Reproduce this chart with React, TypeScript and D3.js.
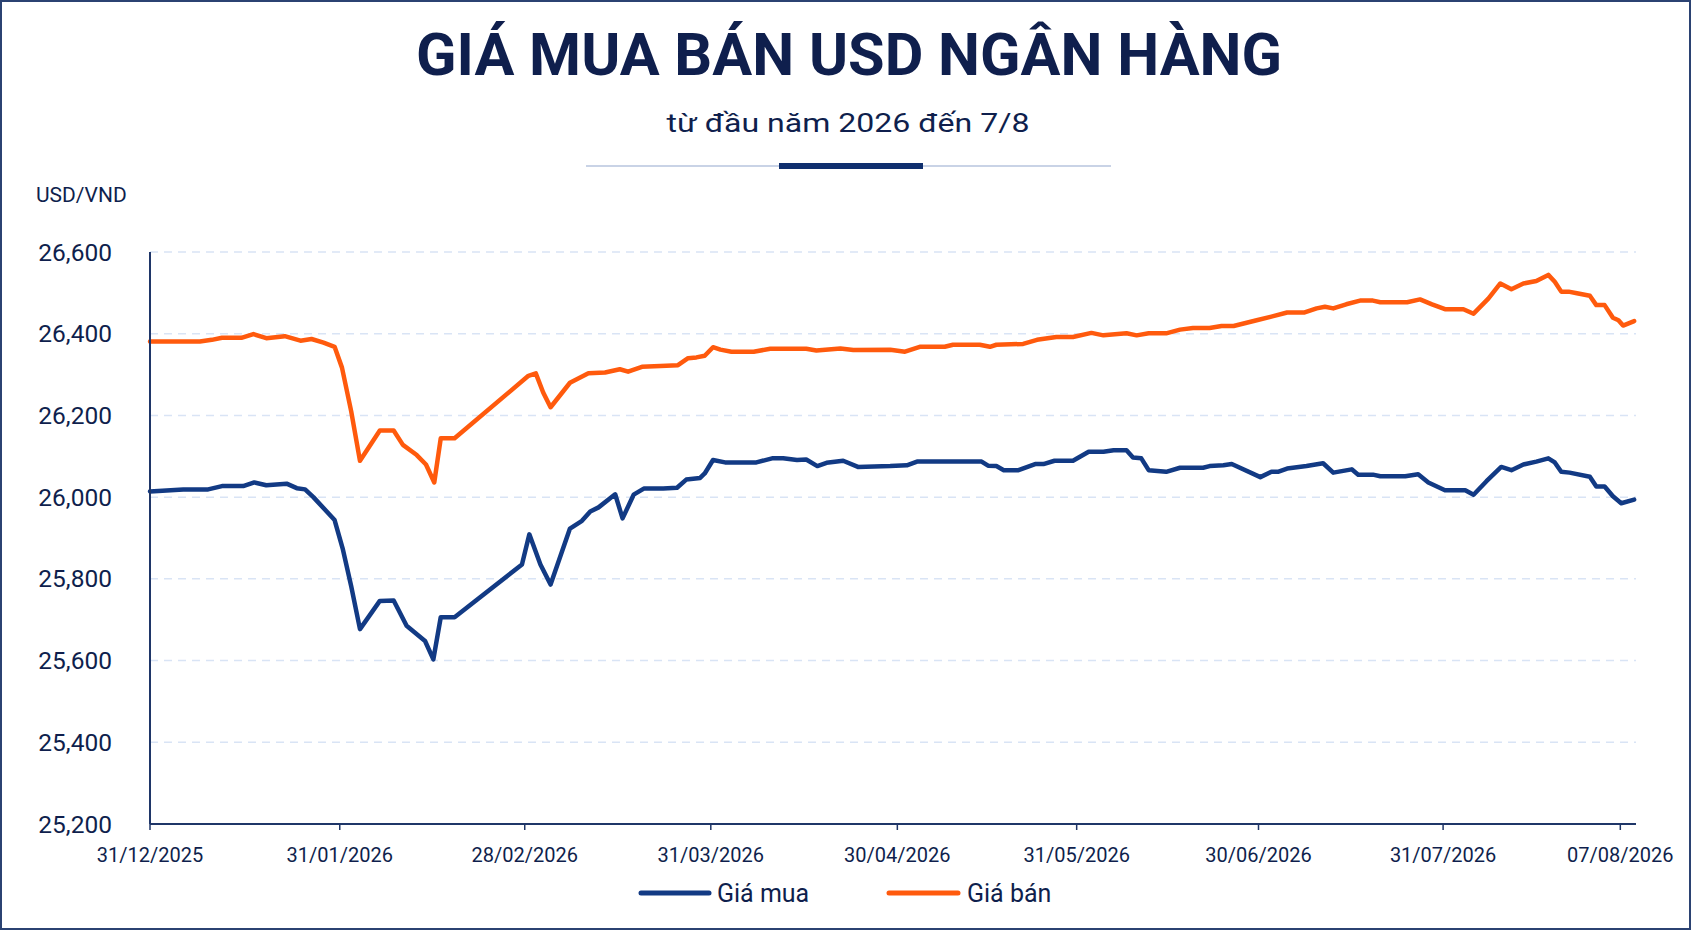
import * as d3 from "d3";

type Pt = [number, number];

// trading-day position on the x axis, price in VND
const yTicks = [25200, 25400, 25600, 25800, 26000, 26200, 26400, 26600];
const tickLabels = [
    "31/12/2025",
    "31/01/2026",
    "28/02/2026",
    "31/03/2026",
    "30/04/2026",
    "31/05/2026",
    "30/06/2026",
    "31/07/2026",
    "07/08/2026",
];
const tickPos = [0, 20.56, 40.6, 60.76, 80.97, 100.4, 120.1, 140.1, 159.3];

const buyPoints: Pt[] = [
    [0, 26014], [3.6, 26019], [6.3, 26019], [7.8, 26027], [10.1, 26027], [11.3, 26036],
    [12.6, 26029], [14.8, 26033], [15.9, 26022], [16.8, 26019], [17.7, 26000], [20.0, 25944],
    [20.9, 25872], [21.8, 25782], [22.75, 25677], [24.9, 25746], [26.4, 25747], [27.8, 25685],
    [29.8, 25648], [30.7, 25603], [31.5, 25706], [33.0, 25706], [40.3, 25835], [41.1, 25909],
    [42.3, 25835], [43.4, 25786], [45.5, 25923], [46.8, 25942], [47.7, 25965], [48.6, 25975],
    [50.4, 26007], [51.2, 25948], [52.4, 26006], [53.5, 26021], [55.6, 26021], [57.1, 26023],
    [58.1, 26043], [59.6, 26047], [60.1, 26058], [61.0, 26091], [62.3, 26085], [65.7, 26085],
    [67.4, 26095], [68.6, 26095], [70.1, 26091], [71.1, 26092], [72.3, 26076], [73.3, 26084],
    [75.1, 26089], [76.7, 26074], [80.2, 26076], [82.0, 26078], [83.1, 26087], [90.1, 26087],
    [90.8, 26077], [91.7, 26076], [92.5, 26066], [94.1, 26066], [95.9, 26081], [96.8, 26081],
    [98.0, 26089], [100.0, 26089], [101.7, 26111], [103.3, 26111], [104.4, 26115], [105.8, 26115],
    [106.5, 26097], [107.4, 26095], [108.2, 26066], [110.1, 26062], [111.6, 26072], [114.1, 26072],
    [114.8, 26076], [116.3, 26078], [117.2, 26081], [120.3, 26049], [121.5, 26062], [122.2, 26062],
    [123.2, 26070], [125.3, 26076], [127.1, 26083], [128.2, 26060], [130.2, 26068], [130.9, 26055],
    [132.5, 26055], [133.3, 26051], [136.0, 26051], [137.4, 26056], [138.5, 26036], [140.3, 26017],
    [142.5, 26017], [143.4, 26006], [144.8, 26039], [146.4, 26074], [147.5, 26066], [148.8, 26080],
    [150.2, 26087], [151.5, 26095], [152.2, 26085], [152.9, 26062], [153.8, 26060], [156.0, 26050],
    [156.7, 26026], [157.6, 26026], [158.5, 26002], [159.4, 25985], [160.8, 25994],
];

const sellPoints: Pt[] = [
    [0, 26381], [5.4, 26381], [6.7, 26385], [7.8, 26390], [9.9, 26390], [11.2, 26399],
    [12.6, 26389], [14.6, 26394], [16.3, 26383], [17.5, 26387], [18.8, 26378], [20.0, 26368],
    [20.8, 26317], [21.8, 26210], [22.75, 26089], [24.9, 26163], [26.4, 26163], [27.4, 26128],
    [28.9, 26103], [29.9, 26080], [30.8, 26036], [31.5, 26144], [33.0, 26144], [41.0, 26297],
    [41.8, 26303], [42.6, 26256], [43.4, 26220], [45.5, 26280], [47.5, 26303], [49.3, 26305],
    [50.9, 26313], [51.8, 26307], [53.3, 26319], [55.3, 26321], [57.2, 26323], [58.3, 26340],
    [59.2, 26342], [60.1, 26346], [61.0, 26367], [61.8, 26361], [63.0, 26356], [65.4, 26356],
    [67.2, 26363], [71.1, 26363], [72.2, 26359], [74.8, 26364], [76.2, 26360], [80.2, 26361],
    [81.8, 26356], [83.4, 26368], [86.1, 26368], [87.0, 26373], [89.9, 26373], [91.0, 26368],
    [91.7, 26373], [94.6, 26375], [96.1, 26385], [98.2, 26392], [100.0, 26392], [102.0, 26402],
    [103.3, 26396], [105.8, 26401], [106.9, 26396], [108.2, 26401], [110.1, 26401], [111.6, 26410],
    [113.0, 26414], [114.8, 26414], [116.1, 26419], [117.4, 26419], [119.9, 26433], [121.7, 26443],
    [123.2, 26452], [125.1, 26452], [126.4, 26462], [127.3, 26466], [128.2, 26462], [129.6, 26472],
    [131.1, 26481], [132.5, 26481], [133.3, 26477], [136.2, 26477], [137.6, 26484], [138.9, 26472],
    [140.3, 26460], [142.3, 26460], [143.4, 26449], [145.0, 26486], [146.3, 26523], [147.5, 26509],
    [148.8, 26523], [150.2, 26529], [151.5, 26544], [152.2, 26527], [152.9, 26503], [153.7, 26503],
    [154.6, 26499], [156.0, 26493], [156.7, 26470], [157.6, 26470], [158.5, 26439], [159.1, 26433],
    [159.6, 26420], [160.8, 26431],
];

const width = 1691;
const height = 930;
const plot = { left: 150, right: 1636, top: 252, bottom: 824 };

const navy = "#0f1f4d";
const blue = "#123a84";
const orange = "#ff5a0d";
const font = "Roboto, 'Noto Sans', sans-serif";

export default function App() {
    const x = d3.scaleLinear().domain([0, 161]).range([plot.left, plot.right]);
    const y = d3.scaleLinear().domain([25200, 26600]).range([plot.bottom, plot.top]);

    const line = d3
        .line<Pt>()
        .x((d) => x(d[0]))
        .y((d) => y(d[1]));

    const fmt = d3.format(",");

    return (
        <>
            <style>{`body{margin:0}`}</style>
            <svg width={width} height={height} style={{ display: "block" }} fontFamily={font}>
                <rect x={1} y={1} width={width - 2} height={height - 2} fill="#fff" stroke="#2b4272" strokeWidth={2} />

                {/* header */}
                <text x={849} y={75} textAnchor="middle" fontSize={60} fontWeight={700} fill={navy} textLength={866} lengthAdjust="spacingAndGlyphs">
                    GIÁ MUA BÁN USD NGÂN HÀNG
                </text>
                <text x={848} y={132} textAnchor="middle" fontSize={26} fill={navy} textLength={363} lengthAdjust="spacingAndGlyphs">
                    từ đầu năm 2026 đến 7/8
                </text>
                <line x1={586} x2={1111} y1={166} y2={166} stroke="#c9d3e6" strokeWidth={2} />
                <rect x={779} y={163} width={144} height={6} fill="#0f2f6e" />

                <text x={36} y={202} fontSize={21} fill={navy}>
                    USD/VND
                </text>

                {/* grid */}
                {yTicks.slice(1).map((t) => (
                    <line key={t} x1={plot.left} x2={plot.right} y1={y(t)} y2={y(t)} stroke="#d9e4f5" strokeWidth={1.5} strokeDasharray="8 6" />
                ))}
                {yTicks.map((t) => (
                    <text key={t} x={112} y={y(t)} dy="0.35em" textAnchor="end" fontSize={24.5} fill={navy}>
                        {fmt(t)}
                    </text>
                ))}

                {/* series */}
                <path d={line(buyPoints) || ""} fill="none" stroke={blue} strokeWidth={4.5} strokeLinejoin="round" strokeLinecap="round" />
                <path d={line(sellPoints) || ""} fill="none" stroke={orange} strokeWidth={4.5} strokeLinejoin="round" strokeLinecap="round" />

                {/* axes */}
                <line x1={plot.left} x2={plot.left} y1={plot.top} y2={plot.bottom} stroke="#1f3668" strokeWidth={2} />
                <line x1={plot.left} x2={plot.right} y1={plot.bottom} y2={plot.bottom} stroke="#1f3668" strokeWidth={2} />
                {tickPos.map((p, i) => (
                    <g key={tickLabels[i]}>
                        <line x1={x(p)} x2={x(p)} y1={plot.bottom} y2={plot.bottom + 6} stroke="#1f3668" strokeWidth={1.5} />
                        <text x={x(p)} y={plot.bottom + 38} textAnchor="middle" fontSize={20} fill={navy}>
                            {tickLabels[i]}
                        </text>
                    </g>
                ))}

                {/* legend */}
                <line x1={641} x2={709} y1={893} y2={893} stroke={blue} strokeWidth={5} strokeLinecap="round" />
                <text x={717} y={902} fontSize={25} fill={navy}>
                    Giá mua
                </text>
                <line x1={889} x2={958} y1={893} y2={893} stroke={orange} strokeWidth={5} strokeLinecap="round" />
                <text x={967} y={902} fontSize={25} fill={navy}>
                    Giá bán
                </text>
            </svg>
        </>
    );
}
